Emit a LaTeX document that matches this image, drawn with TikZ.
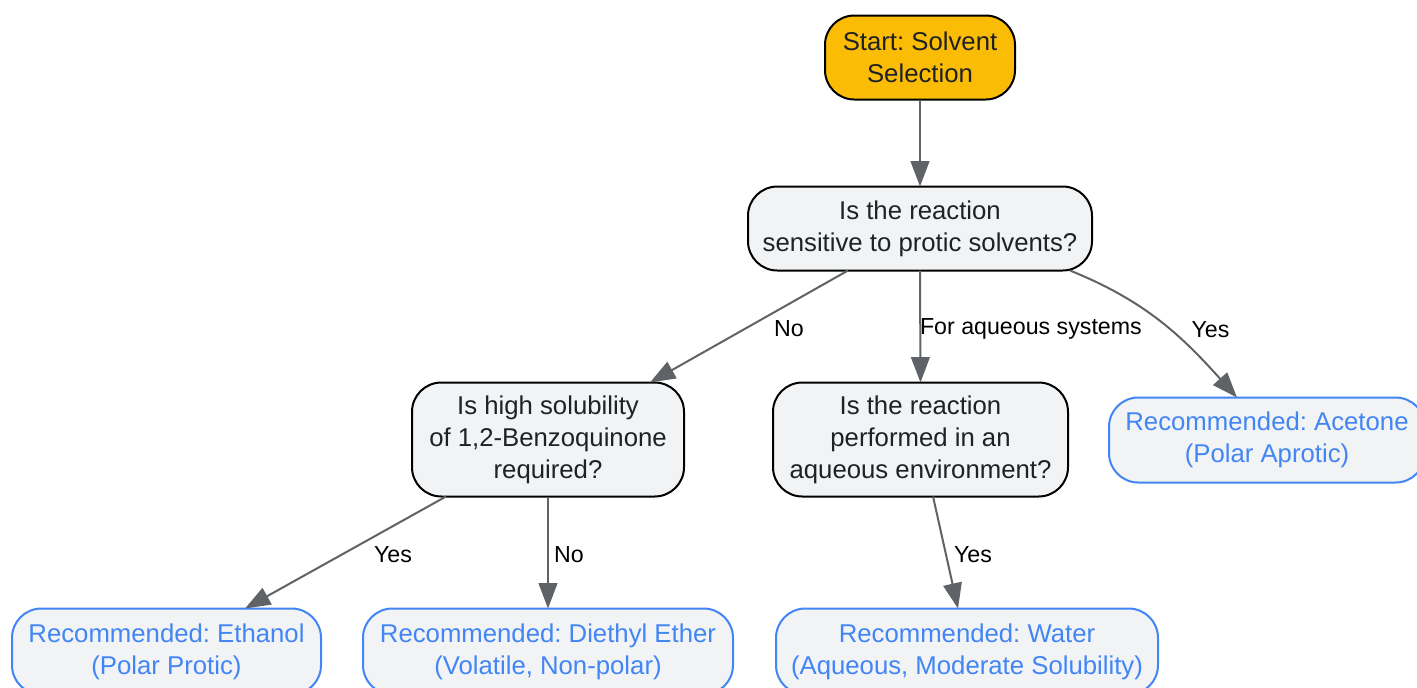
\documentclass[tikz,border=0pt]{standalone}
\usepackage{fontspec}
\setmainfont{Liberation Sans}
\usetikzlibrary{arrows.meta,shapes}
\frenchspacing

\definecolor{startfill}{HTML}{FBBC05}
\definecolor{boxfill}{HTML}{F1F3F4}
\definecolor{recblue}{HTML}{4285F4}
\definecolor{edgegray}{HTML}{5F6368}
\definecolor{textdark}{HTML}{202124}

\begin{document}
\begin{tikzpicture}[x=0.75pt,y=-0.75pt,
  base/.style={rounded corners=22pt,align=center,font=\fontsize{19.3}{24}\selectfont,
    inner sep=0pt,outer sep=0pt,line width=1.5pt},
  startbox/.style={base,draw=black,fill=startfill,text=textdark},
  askbox/.style={base,draw=black,fill=boxfill,text=textdark},
  recbox/.style={base,draw=recblue,fill=boxfill,text=recblue},
  arr/.style={draw=edgegray,line width=1.5pt,-{Triangle[length=19pt,width=14pt]},
    color=edgegray},
  lbl/.style={font=\fontsize{17.4}{20}\selectfont,text=black,yshift=-1.5pt}]
\useasboundingbox (0,0) rectangle (1417,687);
\node[startbox,minimum width=142.5pt,minimum height=63pt] (start) at (920,57.5) {Start: Solvent\\Selection};
\node[askbox,minimum width=258pt,minimum height=63pt] (q1) at (920,228.5) {Is the reaction\\sensitive to protic solvents?};
\node[askbox,minimum width=204pt,minimum height=85.5pt] (q2) at (548,439.5) {Is high solubility\\of 1,2-Benzoquinone\\required?};
\node[askbox,minimum width=221.25pt,minimum height=85.5pt] (q3) at (920.5,439.5) {Is the reaction\\performed in an\\aqueous environment?};
\node[recbox,minimum width=237pt,minimum height=63.75pt] (acetone) at (1267,440) {Recommended: Acetone\\(Polar Aprotic)};
\node[recbox,minimum width=231.75pt,minimum height=64.5pt] (ethanol) at (166.5,651.5) {Recommended: Ethanol\\(Polar Protic)};
\node[recbox,minimum width=277.5pt,minimum height=64.5pt] (diethyl) at (548,651.5) {Recommended: Diethyl Ether\\(Volatile, Non-polar)};
\node[recbox,minimum width=286.5pt,minimum height=64.5pt] (water) at (967,651.5) {Recommended: Water\\(Aqueous, Moderate Solubility)};

\draw[arr] (start) -- (q1);
\draw[arr] ([xshift=-54pt]q1.south) -- ([xshift=76.5pt]q2.north) node[lbl,midway,xshift=30pt] {No};
\draw[arr] (q1.south) -- (q3.north) node[lbl,midway,xshift=83pt] {For aqueous systems};
\draw[arr] ([xshift=112.5pt]q1.south) to[out=-22,in=132] node[lbl,xshift=36.75pt,yshift=-3.75pt] {Yes} ([xshift=-22.5pt]acetone.north);
\draw[arr] ([xshift=-76.5pt]q2.south) -- ([xshift=58.9pt]ethanol.north) node[lbl,midway,xshift=35.6pt] {Yes};
\draw[arr] (q2.south) -- (diethyl.north) node[lbl,midway,xshift=15.75pt] {No};
\draw[arr] ([xshift=9.4pt]q3.south) -- ([xshift=-6.75pt]water.north) node[lbl,midway,xshift=20.6pt] {Yes};
\end{tikzpicture}
\end{document}
